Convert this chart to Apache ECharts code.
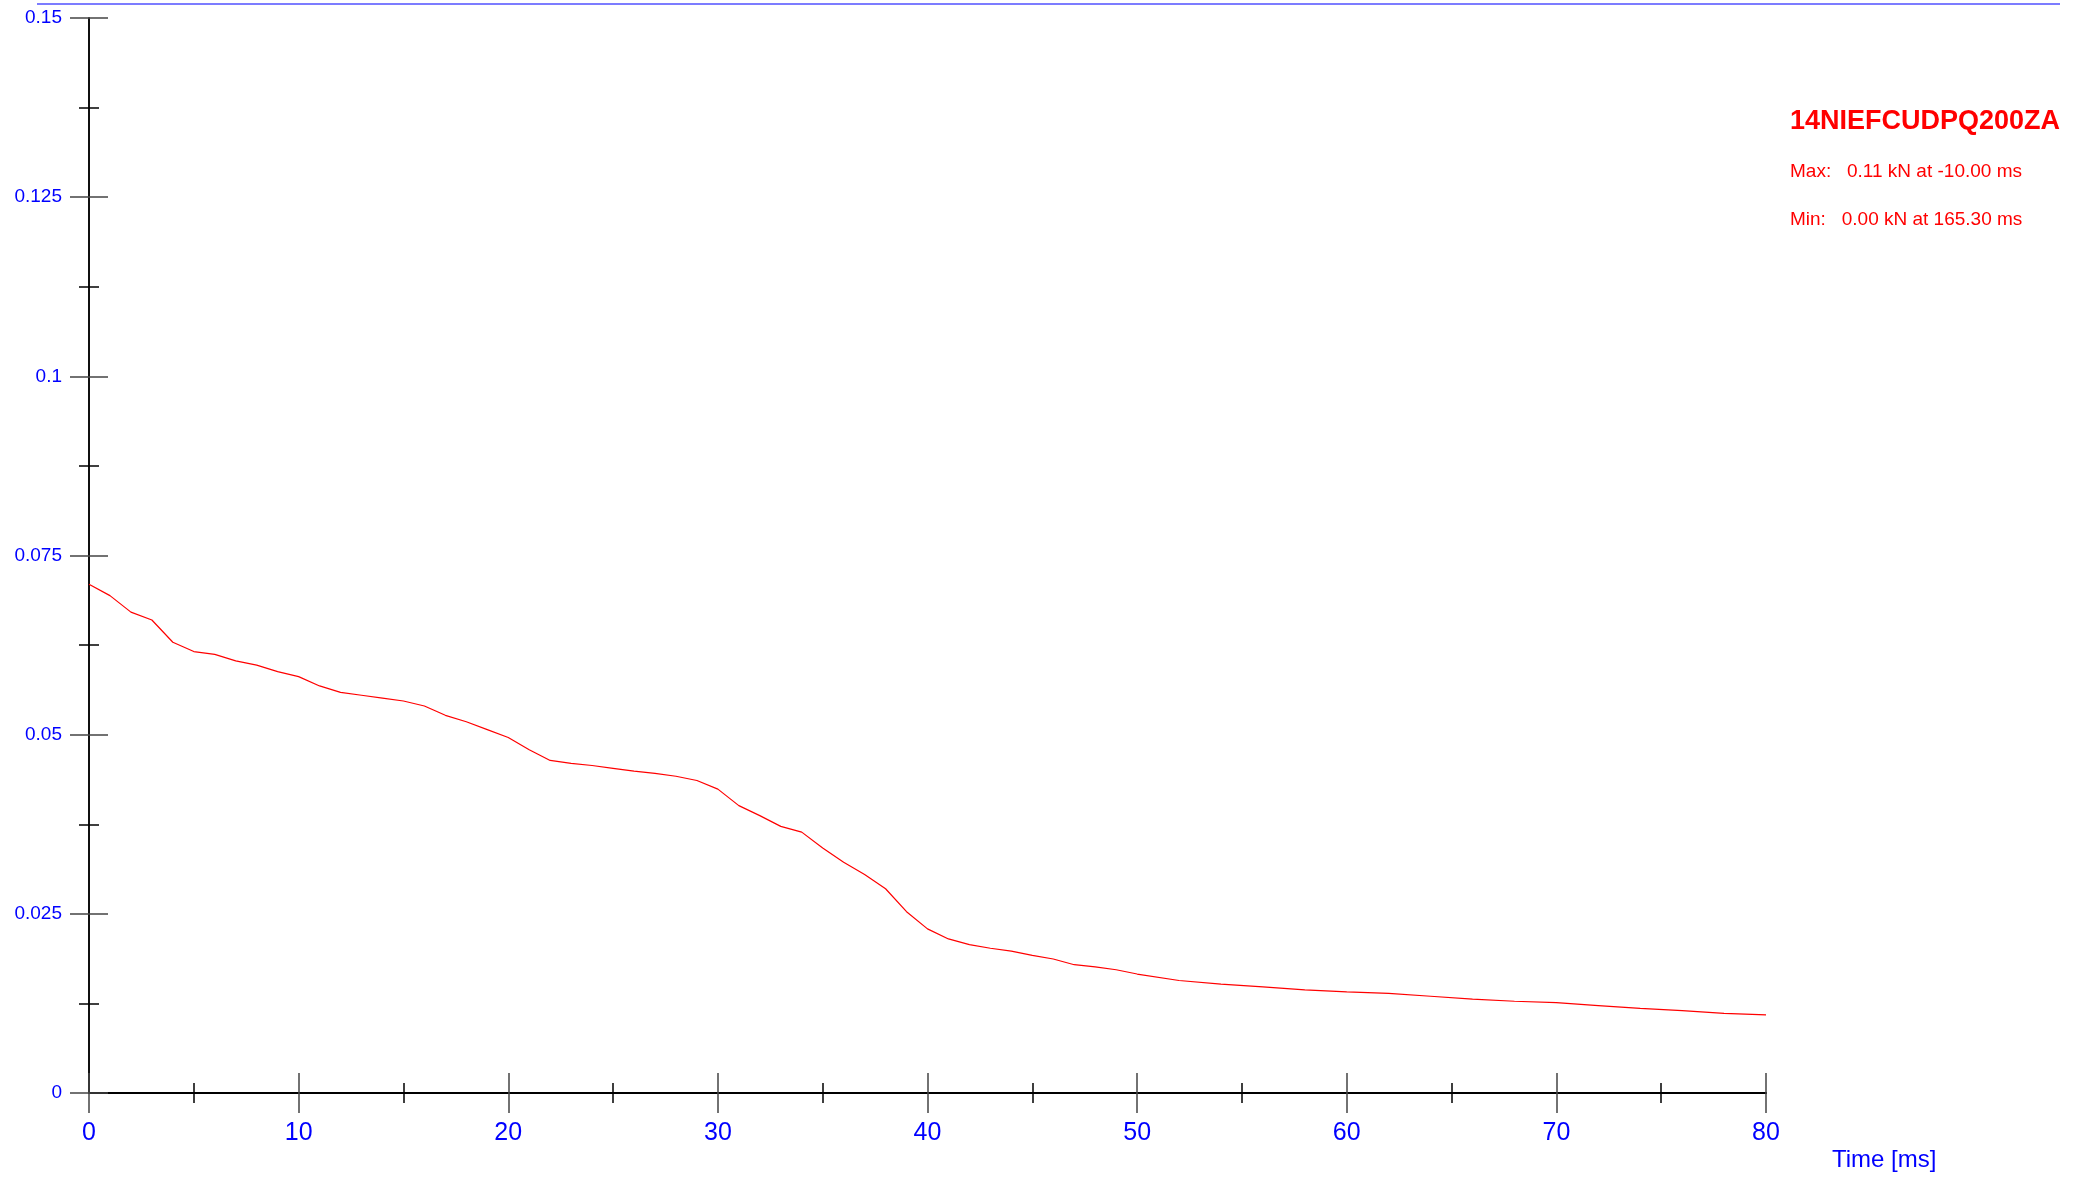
<!DOCTYPE html>
<html><head><meta charset="utf-8">
<script src="https://cdn.jsdelivr.net/npm/echarts@6/dist/echarts.min.js"></script>
<style>html,body{margin:0;padding:0;background:#fff}#main{width:2078px;height:1177px}</style>
</head><body><div id="main"></div>
<script>
// time in ms, force in kN
var times = [0,1,2,3,4,5,6,7,8,9,10,11,12,13,14,15,16,17,18,19,20,21,22,23,24,25,26,27,28,29,30,31,32,33,34,35,36,37,38,39,40,41,42,43,44,45,46,47,48,49,50,52,54,56,58,60,62,64,66,68,70,72,74,76,78,80];
var force = [0.071,0.0694,0.0671,0.066,0.0629,0.0616,0.0612,0.0603,0.0597,0.0588,0.0581,0.0568,0.0559,0.0555,0.0551,0.0547,0.054,0.0527,0.0518,0.0507,0.0496,0.0479,0.0464,0.046,0.0457,0.0453,0.0449,0.0446,0.0442,0.0436,0.0424,0.0401,0.0387,0.0372,0.0364,0.0342,0.0322,0.0305,0.0285,0.0253,0.0229,0.0215,0.0207,0.0202,0.0198,0.0192,0.0187,0.0179,0.0176,0.0172,0.0166,0.0157,0.0152,0.0148,0.0144,0.0141,0.0139,0.0135,0.0131,0.0128,0.0126,0.0122,0.0118,0.0115,0.0111,0.0109];
var title = '14NIEFCUDPQ200ZA';
var maxText = 'Max:   0.11 kN at -10.00 ms';
var minText = 'Min:   0.00 kN at 165.30 ms';

var chart = echarts.init(document.getElementById('main'));
var F = 'Arial, "Liberation Sans", sans-serif';
function xAx(inside, labels) {
  return {type:'value', min:0, max:80, interval:10, position:'bottom',
    axisLine:{show:true, lineStyle:{color:'#000', width:2}},
    axisTick:{show:true, inside:inside, length:20, lineStyle:{color:'#444', width:1.5}},
    minorTick:{show:true, splitNumber:2, length:10, lineStyle:{color:'#000', width:1.5}},
    axisLabel:{show:labels, color:'#0000ff', fontSize:25, fontFamily:F, margin:28},
    splitLine:{show:false}};
}
function yAx(inside, labels) {
  return {type:'value', min:0, max:0.15, interval:0.025, position:'left',
    axisLine:{show:true, lineStyle:{color:'#000', width:1.5}},
    axisTick:{show:true, inside:inside, length:19, lineStyle:{color:'#444', width:1.5}},
    minorTick:{show:true, splitNumber:2, length:10, lineStyle:{color:'#000', width:1.5}},
    axisLabel:{show:labels, color:'#0000ff', fontSize:19, fontFamily:F, margin:27},
    splitLine:{show:false}};
}
chart.setOption({
  animation:false,
  grid:{left:89, right:312, top:18, bottom:84},
  xAxis:[xAx(false,true), xAx(true,false)],
  yAxis:[yAx(false,true), yAx(true,false)],
  graphic:[
    {type:'line', shape:{x1:37,y1:4,x2:2060,y2:4}, style:{stroke:'#5050ff', lineWidth:1.5}},
    {type:'text', left:1832, top:1148, style:{text:'Time [ms]', fill:'#0000ff', font:'24px '+F}},
    {type:'text', left:1790, top:108, style:{text:title, fill:'#ff0000', font:'bold 27px '+F}},
    {type:'text', left:1790, top:162, style:{text:maxText, fill:'#ff0000', font:'19px '+F}},
    {type:'text', left:1790, top:210, style:{text:minText, fill:'#ff0000', font:'19px '+F}}
  ],
  series:[{type:'line', data:times.map(function(t,i){return [t, force[i]];}),
    showSymbol:false, lineStyle:{color:'#ff0000', width:1.2}, z:3}]
});
</script></body></html>
